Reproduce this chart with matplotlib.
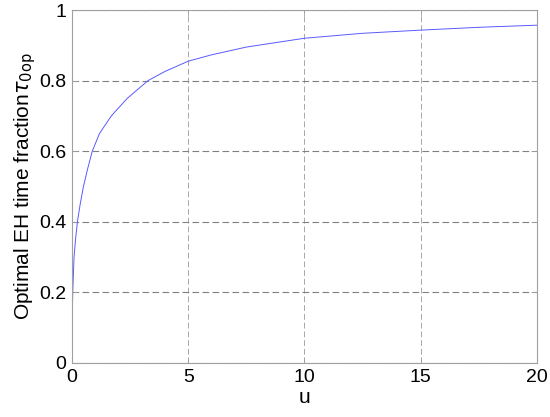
import numpy as np
import matplotlib
matplotlib.use('Agg')
import matplotlib.pyplot as plt

# values
u_vals   = [0, 0.003, 0.01, 0.03, 0.085, 0.15, 0.23, 0.35, 0.49, 0.67, 0.87,
            1.18, 1.69, 2.38, 3.27, 4.0, 5.0, 6.0, 7.5, 10.0, 12.5, 15.0, 17.5, 20.0]
tau_vals = [0, 0.08, 0.14, 0.2, 0.3, 0.35, 0.4, 0.45, 0.5, 0.55, 0.6,
            0.65, 0.7, 0.75, 0.8, 0.826, 0.855, 0.873, 0.895, 0.92, 0.934, 0.943, 0.951, 0.957]

xticks = [0, 5, 10, 15, 20]
yticks = [0, 0.2, 0.4, 0.6, 0.8, 1]

plt.rcParams['font.family'] = ['Liberation Sans', 'DejaVu Sans']

fig = plt.figure(figsize=(5.5, 4.17), dpi=100)
ax = fig.add_axes([0.131, 0.1295, 0.845, 0.8465])

ax.plot(u_vals, tau_vals, color='#5a5aff', lw=0.7)

ax.set_xlim(0, 20)
ax.set_ylim(0, 1)
ax.set_xticks(xticks)
ax.set_yticks(yticks)
ax.set_yticklabels(['0', '0.2', '0.4', '0.6', '0.8', '1'])

# horizontal grid a bit darker than the vertical one, as in the original
ax.grid(True, axis='y', color='#808080', linestyle=(0, (6, 3)), lw=0.8)
ax.grid(True, axis='x', color='#a8a8a8', linestyle=(0, (6, 3)), lw=0.7)
for s in ax.spines.values():
    s.set_color('#a0a0a0')
    s.set_linewidth(0.8)
ax.tick_params(direction='in', length=4, width=0.6, color='#a0a0a0',
               labelsize=14, top=True, right=True, pad=4)

ax.set_xlabel('u', fontsize=15, labelpad=2)
ax.set_ylabel('Optimal EH time fraction$\\tau_{\\mathrm{0op}}$', fontsize=15, labelpad=1)

fig.savefig('out.png', dpi=100)
